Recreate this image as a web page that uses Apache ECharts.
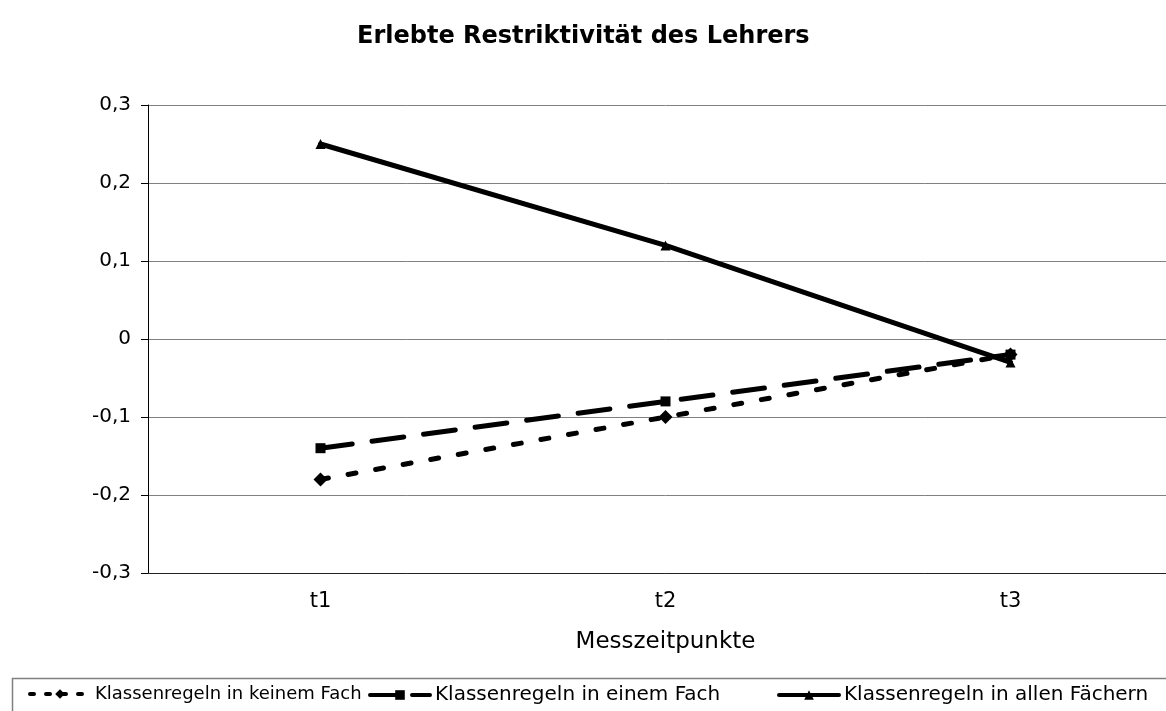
<!DOCTYPE html>
<html>
<head>
<meta charset="utf-8">
<script src="https://cdn.jsdelivr.net/npm/echarts@6/dist/echarts.min.js"></script>
<style>
    html, body {margin: 0; padding: 0; background: #fff; overflow: hidden;}
    /* the plot runs past the right edge of the window, like in the original */
    #chart {width: 1200px; height: 711px;}
</style>
</head>
<body>
<div id="chart"></div>
<script>
    const categories = ['t1', 't2', 't3'];
    const keinemFach = [-0.18, -0.10, -0.02];
    const einemFach = [-0.14, -0.08, -0.02];
    const allenFaechern = [0.25, 0.12, -0.03];
    const seriesNames = ['Klassenregeln in keinem Fach', 'Klassenregeln in einem Fach', 'Klassenregeln in allen Fächern'];

    const FONT = '"DejaVu Sans", Verdana, sans-serif';
    const SHORT_DASH = [8, 20], LONG_DASH = [32, 20];
    const chart = echarts.init(document.getElementById('chart'));

    const S = (name, data, symbol, size, dash) => ({
        name, type: 'line', data, symbol, symbolSize: size,
        lineStyle: {color: '#000', width: 5, type: dash, cap: 'round'},
        itemStyle: {color: '#000'},
        emphasis: {disabled: true}, z: 3
    });

    // one legend per entry, so every entry sits where it is in the original
    const L = (i, left, dash, size) => ({
        left, top: 680, itemWidth: 60, itemHeight: 12, itemGap: 0,
        data: [{name: seriesNames[i], lineStyle: {width: 4, type: dash, cap: 'round'}}],
        textStyle: {fontFamily: FONT, fontSize: size, color: '#000'}
    });

    chart.setOption({
        animation: false,
        title: {
            text: 'Erlebte Restriktivität des Lehrers', left: 352, top: 20,
            textStyle: {fontFamily: FONT, fontSize: 24, fontWeight: 'bold', color: '#000'}
        },
        grid: {left: 148, top: 105, right: 17, height: 468},
        legend: [
            L(0, 23, [4, 12], 18),
            L(1, 363, [30, 12], 20),
            L(2, 772, 'solid', 20)
        ],
        xAxis: {
            type: 'category', data: categories, boundaryGap: true,
            name: 'Messzeitpunkte', nameLocation: 'middle', nameGap: 58,
            nameTextStyle: {fontFamily: FONT, fontSize: 23, color: '#000'},
            axisLine: {onZero: false, lineStyle: {color: '#222', width: 1}},
            axisTick: {show: false},
            axisLabel: {fontFamily: FONT, fontSize: 21, color: '#000', margin: 18}
        },
        yAxis: {
            type: 'value', min: -0.3, max: 0.3, interval: 0.1,
            axisLine: {show: true, lineStyle: {color: '#000', width: 1}},
            axisTick: {show: true, length: 7, lineStyle: {color: '#000'}},
            splitLine: {lineStyle: {color: '#808080', width: 1}},
            axisLabel: {
                fontFamily: FONT, fontSize: 20, color: '#000', margin: 17,
                formatter: v => (Math.round(v * 10) / 10).toString().replace('.', ',')
            }
        },
        graphic: [{
            type: 'rect', left: 10, top: 676, silent: true,
            shape: {width: 1250, height: 60},
            style: {fill: 'none', stroke: '#808080', lineWidth: 1.5}
        }],
        series: [
            S(seriesNames[0], keinemFach, 'diamond', 14, SHORT_DASH),
            S(seriesNames[1], einemFach, 'rect', 10, LONG_DASH),
            S(seriesNames[2], allenFaechern, 'triangle', 10, 'solid')
        ]
    });
</script>
</body>
</html>
